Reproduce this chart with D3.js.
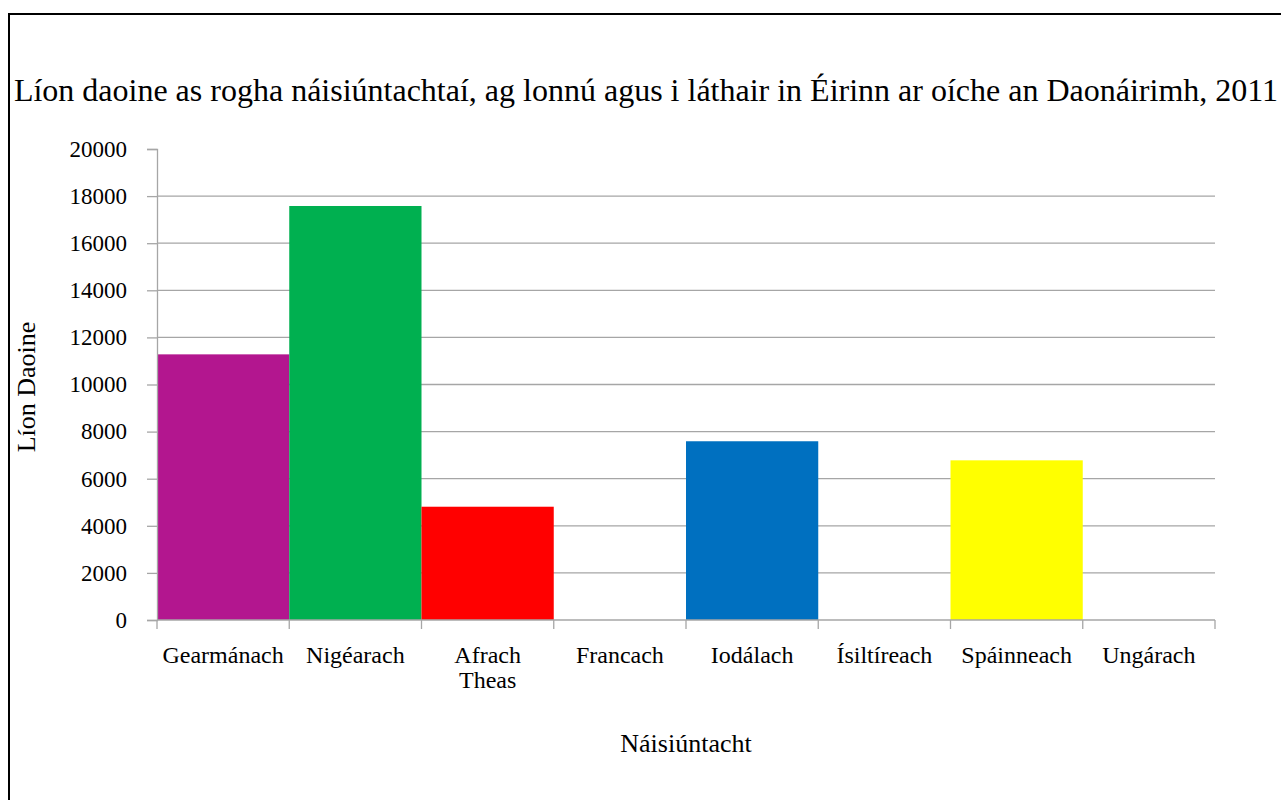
<!DOCTYPE html>
<html>
<head>
<meta charset="utf-8">
<script src="https://cdn.jsdelivr.net/npm/d3@7"></script>
<style>
  body { margin: 0; background: #fff; }
  text { font-family: "Liberation Serif", "Times New Roman", serif; fill: #000; }
</style>
</head>
<body>
<div id="chart"></div>
<script>
// Data
const categories = ['Gearmánach', 'Nigéarach', 'Afrach Theas', 'Francach', 'Iodálach', 'Ísiltíreach', 'Spáinneach', 'Ungárach']
const values = [11280, 17580, 4810, 0, 7590, 0, 6780, 0]
const barColors = ['#b3168f', '#00b050', '#ff0000', '#ffffff', '#0070c0', '#ffffff', '#ffff00', '#ffffff']
const yTicks = [0, 2000, 4000, 6000, 8000, 10000, 12000, 14000, 16000, 18000, 20000]

const title = 'Líon daoine as rogha náisiúntachtaí, ag lonnú agus i láthair in Éirinn ar oíche an Daonáirimh, 2011'
const serif = '"Liberation Serif", "Times New Roman", serif'

// Dimensions
const dims = {
  width: 1281,
  height: 800,
  left: 157,
  right: 1215,
  top: 149,
  bottom: 620
}

const svg = d3.select('#chart')
  .append('svg')
  .attr('width', dims.width)
  .attr('height', dims.height)
  .attr('font-family', serif)

// outer frame
svg.append('rect')
  .attr('x', 9)
  .attr('y', 14)
  .attr('width', 1400)
  .attr('height', 900)
  .attr('fill', 'none')
  .attr('stroke', '#000')
  .attr('stroke-width', 2)

svg.append('text')
  .attr('x', 646)
  .attr('y', 101)
  .attr('text-anchor', 'middle')
  .style('font-size', '32px')
  .text(title)

// Scales
const xScale = d3.scaleBand()
  .domain(categories)
  .range([dims.left, dims.right])
  .padding(0)

const yScale = d3.scaleLinear()
  .domain([0, 20000])
  .range([dims.bottom, dims.top])

// Gridlines
svg.append('g')
  .selectAll('line')
  .data(yTicks.filter(d => d > 0 && d < 20000))
  .join('line')
  .attr('x1', dims.left)
  .attr('x2', dims.right)
  .attr('y1', d => yScale(d))
  .attr('y2', d => yScale(d))
  .attr('stroke', '#a6a6a6')
  .attr('stroke-width', 1.3)

// Bars
svg.append('g')
  .selectAll('rect')
  .data(categories)
  .join('rect')
  .attr('x', d => xScale(d))
  .attr('width', xScale.bandwidth())
  .attr('y', (d, i) => yScale(values[i]))
  .attr('height', (d, i) => dims.bottom - yScale(values[i]))
  .attr('fill', (d, i) => barColors[i])

// Y axis
const yAxis = d3.axisLeft(yScale)
  .tickValues(yTicks)
  .tickSize(10)
  .tickPadding(20)
  .tickFormat(d3.format('d'))

const yAxisGroup = svg.append('g')
  .attr('transform', `translate(${dims.left},0)`)
  .call(yAxis)
  .attr('font-family', serif)

yAxisGroup.select('.domain').attr('stroke', '#a6a6a6').attr('stroke-width', 1.3)
yAxisGroup.selectAll('.tick line').attr('stroke', '#a6a6a6').attr('stroke-width', 1.3)
yAxisGroup.selectAll('.tick text')
  .style('font-size', '23px')
  .style('font-family', serif)
  .attr('fill', '#000')

// X axis
svg.append('line')
  .attr('x1', dims.left)
  .attr('x2', dims.right)
  .attr('y1', dims.bottom)
  .attr('y2', dims.bottom)
  .attr('stroke', '#a6a6a6')
  .attr('stroke-width', 1.3)

const bounds = categories.map(d => xScale(d)).concat([dims.right])
svg.append('g')
  .selectAll('line')
  .data(bounds)
  .join('line')
  .attr('x1', d => d)
  .attr('x2', d => d)
  .attr('y1', dims.bottom)
  .attr('y2', dims.bottom + 9)
  .attr('stroke', '#a6a6a6')
  .attr('stroke-width', 1.3)

const xLabels = svg.append('g')
  .selectAll('text')
  .data(categories)
  .join('text')
  .attr('text-anchor', 'middle')
  .attr('y', 663)
  .style('font-size', '24px')

xLabels.each(function(d) {
  const words = d === 'Afrach Theas' ? d.split(' ') : [d]
  d3.select(this).selectAll('tspan')
    .data(words)
    .join('tspan')
    .attr('x', xScale(d) + xScale.bandwidth() / 2)
    .attr('dy', (w, i) => i === 0 ? 0 : 25)
    .text(w => w)
})

// Axis titles
svg.append('text')
  .attr('transform', 'translate(35,387) rotate(-90)')
  .attr('text-anchor', 'middle')
  .style('font-size', '26px')
  .text('Líon Daoine')

svg.append('text')
  .attr('x', 686)
  .attr('y', 752)
  .attr('text-anchor', 'middle')
  .style('font-size', '26px')
  .text('Náisiúntacht')
</script>
</body>
</html>
